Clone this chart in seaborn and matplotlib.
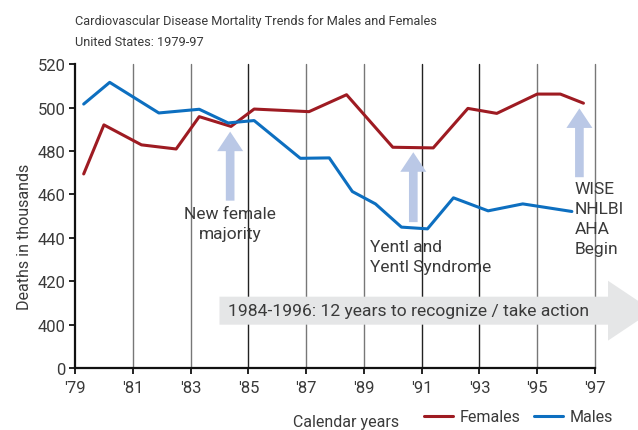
import pandas as pd
import matplotlib
matplotlib.use("Agg")
import matplotlib.pyplot as plt
import seaborn as sns
from matplotlib.patches import FancyArrow
from matplotlib.lines import Line2D

# Data (deaths in thousands)
female_years = [1979.3, 1980.0, 1981.3, 1982.5, 1983.3, 1984.4, 1985.2, 1987.1,
                1988.4, 1990.0, 1991.4, 1992.6, 1993.6, 1995.0, 1995.8, 1996.6]
female_deaths = [469.4, 492.0, 482.8, 480.9, 495.8, 491.3, 499.3, 498.1,
                 505.9, 481.7, 481.4, 499.6, 497.3, 506.2, 506.2, 502.0]
male_years = [1979.3, 1980.2, 1981.9, 1983.3, 1984.3, 1985.2, 1986.8, 1987.8,
              1988.6, 1989.4, 1990.3, 1991.2, 1992.1, 1993.3, 1994.5, 1996.2]
male_deaths = [501.6, 511.6, 497.5, 499.2, 492.9, 494.0, 476.6, 476.8,
               461.3, 455.6, 444.9, 444.1, 458.4, 452.4, 455.6, 452.1]

x_ticks = list(range(1979, 1998, 2))
x_labels = ["'79", "'81", "'83", "'85", "'87", "'89", "'91", "'93", "'95", "'97"]
y_ticks = [380, 400, 420, 440, 460, 480, 500, 520]
y_labels = ["0", "400", "420", "440", "460", "480", "500", "520"]

RED = "#9e1b22"
BLUE = "#0d6fc0"
ARROW_BLUE = "#bac8e6"
ARROW_GRAY = "#e5e6e7"
TXT = "#3a3a3a"

df = pd.concat([
    pd.DataFrame({"year": female_years, "deaths": female_deaths, "sex": "Females"}),
    pd.DataFrame({"year": male_years, "deaths": male_deaths, "sex": "Males"}),
])

sns.set_style("ticks")
plt.rcParams["font.family"] = ["Roboto", "DejaVu Sans"]

fig = plt.figure(figsize=(6.38, 4.31), dpi=100)
ax = fig.add_axes([0.1176, 0.1439, 0.815, 0.705])

# vertical grid lines (some darker, like the original)
for x in x_ticks[1:]:
    c = "#222222" if x in (1985, 1991, 1993) else "#777777"
    ax.axvline(x, color=c, lw=1.0, zorder=0, clip_on=False)

sns.lineplot(data=df, x="year", y="deaths", hue="sex",
             palette={"Females": RED, "Males": BLUE}, lw=2.2,
             legend=False, ax=ax, zorder=3)

ax.set_xlim(1979, 1997)
ax.set_ylim(380, 520)
ax.set_xticks(x_ticks)
ax.set_xticklabels(x_labels)
ax.set_yticks(y_ticks)
ax.set_yticklabels(y_labels)
ax.tick_params(axis="both", labelsize=12, colors="#111111", labelcolor=TXT,
               length=4, width=1.3, direction="out", pad=3)
ax.tick_params(axis="x", pad=5)
for s in ["top", "right"]:
    ax.spines[s].set_visible(False)
for s in ["left", "bottom"]:
    ax.spines[s].set_linewidth(1.6)
    ax.spines[s].set_color("#111111")

ax.set_xlabel("Calendar years", fontsize=11.5, color=TXT, va="center")
ax.xaxis.set_label_coords(0.521, -0.176)
ax.set_ylabel("Deaths in thousands", fontsize=11.5, color=TXT, va="center")
ax.yaxis.set_label_coords(-0.098, 0.434)

# titles
fig.text(75 / 638, 1 - 22 / 431, "Cardiovascular Disease Mortality Trends for Males and Females",
         fontsize=9.2, color=TXT, va="center")
fig.text(75 / 638, 1 - 42 / 431, "United States: 1979-97",
         fontsize=9.2, color=TXT, va="center")

# big gray arrow
big = FancyArrow(1984.0, 406.4, 15.0, 0, width=12.9, head_width=27.6,
                 head_length=1.55, length_includes_head=True,
                 color=ARROW_GRAY, lw=0, clip_on=False, zorder=4)
ax.add_patch(big)
ax.text(1984.3, 406.6, "1984-1996: 12 years to recognize / take action",
        fontsize=12.6, color=TXT, va="center", ha="left", zorder=5)

# light blue upward arrows
for x, y0, y1 in [(1984.37, 457.1, 488.9), (1990.71, 447.2, 479.4), (1996.46, 467.9, 499.6)]:
    ax.add_patch(FancyArrow(x, y0, 0, y1 - y0, width=0.3, head_width=0.9,
                            head_length=9.0, length_includes_head=True,
                            color=ARROW_BLUE, lw=0, zorder=2, clip_on=False))

ax.text(1984.37, 454.5, "New female\nmajority", fontsize=12.5, color=TXT,
        ha="center", va="top", linespacing=1.4, zorder=5)
ax.text(1989.2, 439.5, "Yentl and\nYentl Syndrome", fontsize=12.5, color=TXT,
        ha="left", va="top", linespacing=1.4, zorder=5)
ax.text(1996.3, 466.0, "WISE\nNHLBI\nAHA\nBegin", fontsize=12.5, color=TXT,
        ha="left", va="top", linespacing=1.4, zorder=5)

handles = [Line2D([], [], color=RED, lw=2.2), Line2D([], [], color=BLUE, lw=2.2)]
fig.legend(handles, ["Females", "Males"], loc="center left",
           bbox_to_anchor=(424 / 638, 1 - 418 / 431), ncol=2, frameon=False,
           fontsize=11.5, labelcolor=TXT, handlelength=1.8, handletextpad=0.4,
           columnspacing=0.9, borderpad=0, borderaxespad=0)

fig.savefig("out.png", dpi=100)
